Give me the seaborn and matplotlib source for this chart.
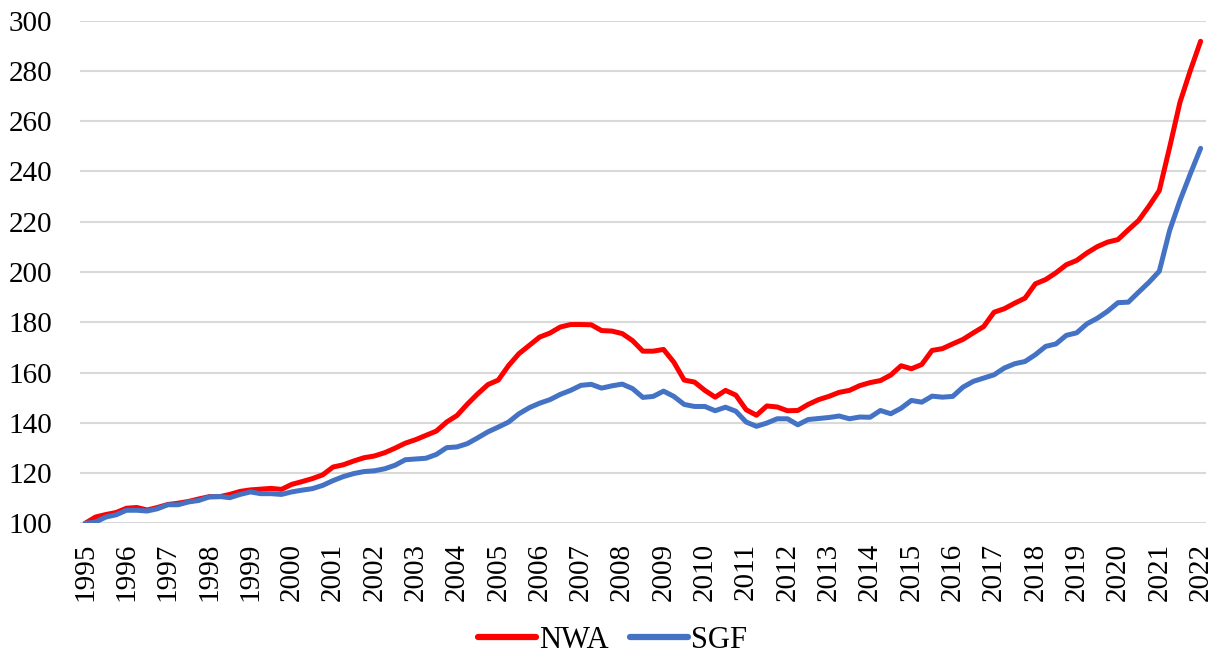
import numpy as np
import pandas as pd
import matplotlib
matplotlib.use("Agg")
import matplotlib.pyplot as plt
import seaborn as sns

# quarterly house price index, 1995Q1 = 100, through 2022Q1
nwa = [100.0, 102.5, 103.5, 104.3, 106.0, 106.3, 105.3, 106.3, 107.5, 108.0,
       108.7, 109.7, 110.6, 110.6, 111.5, 112.7, 113.3, 113.6, 113.9, 113.5,
       115.5, 116.6, 117.8, 119.3, 122.4, 123.3, 124.8, 126.1, 126.8, 128.1,
       129.9, 131.9, 133.3, 135.0, 136.7, 140.3, 142.9, 147.4, 151.5, 155.2,
       157.0, 162.8, 167.5, 170.8, 174.1, 175.7, 178.1, 179.1, 179.1, 179.0,
       176.7, 176.5, 175.5, 172.7, 168.5, 168.5, 169.2, 164.1, 157.0, 156.2,
       152.9, 150.2, 152.9, 151.0, 145.2, 143.0, 146.7, 146.3, 144.8, 144.9,
       147.3, 149.2, 150.5, 152.1, 152.9, 154.8, 156.0, 156.8, 159.0, 162.7,
       161.5, 163.2, 168.8, 169.5, 171.4, 173.2, 175.8, 178.3, 184.0, 185.4,
       187.6, 189.6, 195.3, 197.0, 199.7, 202.9, 204.6, 207.6, 210.1, 211.9,
       212.9, 216.8, 220.5, 226.2, 232.4, 249.6, 267.5, 280.1, 291.8]
sgf = [100.0, 100.5, 102.5, 103.4, 105.2, 105.2, 104.9, 105.8, 107.4, 107.4,
       108.5, 109.1, 110.5, 110.7, 110.2, 111.5, 112.5, 111.8, 111.8, 111.5,
       112.5, 113.2, 113.8, 115.1, 117.0, 118.6, 119.8, 120.6, 120.9, 121.7,
       123.1, 125.3, 125.6, 125.9, 127.4, 130.1, 130.4, 131.7, 134.0, 136.4,
       138.3, 140.3, 143.6, 146.0, 147.8, 149.2, 151.3, 152.9, 154.9, 155.3,
       153.8, 154.7, 155.4, 153.6, 150.1, 150.5, 152.6, 150.5, 147.3, 146.5,
       146.5, 144.8, 146.2, 144.6, 140.3, 138.6, 139.9, 141.6, 141.6, 139.2,
       141.3, 141.7, 142.1, 142.7, 141.6, 142.3, 142.2, 144.9, 143.6, 145.8,
       148.9, 148.2, 150.6, 150.2, 150.5, 154.2, 156.5, 157.8, 159.1, 161.8,
       163.5, 164.4, 167.1, 170.4, 171.4, 174.8, 175.8, 179.4, 181.6, 184.4,
       187.8, 188.0, 192.0, 195.9, 200.3, 216.5, 228.4, 239.0, 249.2]
years = [str(y) for y in range(1995, 2023)]
series_names = ["NWA", "SGF"]
colors = {"NWA": "#FF0000", "SGF": "#4472C4"}

q = np.arange(len(nwa))
df = pd.DataFrame({
    "quarter": np.concatenate([q, q]),
    "index": nwa + sgf,
    "series": ["NWA"] * len(nwa) + ["SGF"] * len(sgf),
})

sns.set_theme(style="white")
plt.rcParams["font.family"] = ["Liberation Serif", "DejaVu Serif"]
plt.rcParams["text.color"] = "black"

fig = plt.figure(figsize=(12.25, 6.67), dpi=100)
ax = fig.add_axes([0.0653, 0.2154, 0.919, 0.7536])

sns.lineplot(data=df, x="quarter", y="index", hue="series",
             hue_order=series_names, palette=colors, linewidth=3.6,
             ax=ax, legend=False)

ax.set_xlim(-0.5, len(nwa) - 0.5)
ax.set_ylim(100, 300)
ax.set_yticks(range(100, 301, 20))
ax.set_xticks(q[::4])
ax.set_xticklabels(years, rotation=90)
ax.yaxis.grid(True, color="#D9D9D9", linewidth=1.5)
ax.set_axisbelow(True)
ax.tick_params(axis="both", length=0, labelsize=21, colors="black")
ax.tick_params(axis="x", pad=14)
ax.tick_params(axis="y", pad=20)
ax.set_xlabel("")
ax.set_ylabel("")
for s in ax.spines.values():
    s.set_visible(False)

handles = [plt.Line2D([], [], color=colors[n], linewidth=4.5) for n in series_names]
leg = fig.legend(handles, series_names, loc="center", bbox_to_anchor=(0.5, 0.04),
                 ncol=2, frameon=False, fontsize=22, handlelength=1.9,
                 handletextpad=0.1, columnspacing=0.7)
for t in leg.get_texts():
    t.set_color("black")

fig.savefig("out.png", dpi=100)
